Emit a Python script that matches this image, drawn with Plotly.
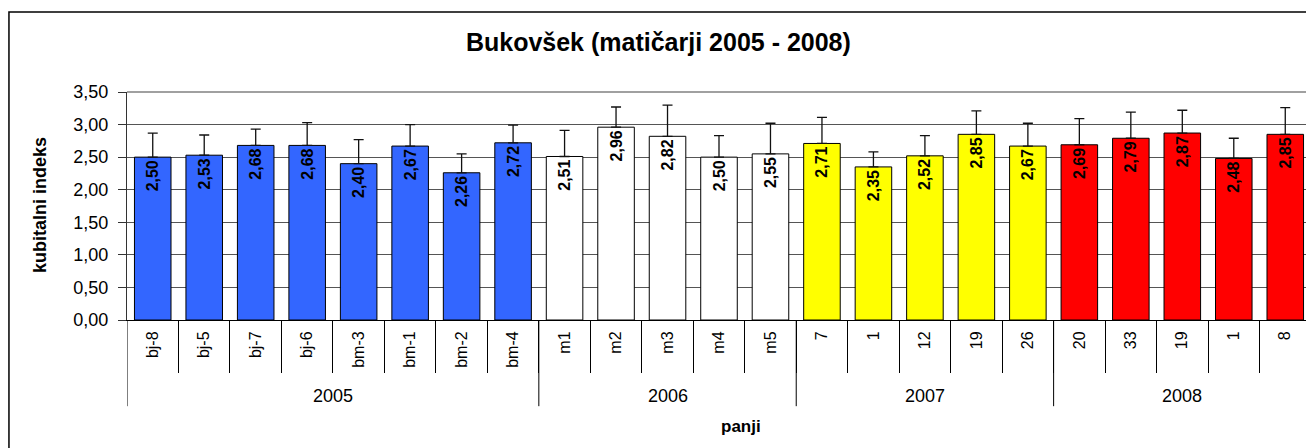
import plotly.graph_objects as go

# ---- data ----
years = ["2005", "2006", "2007", "2008"]
labels_2005 = ["bj-8", "bj-5", "bj-7", "bj-6", "bm-3", "bm-1", "bm-2", "bm-4"]
labels_2006 = ["m1", "m2", "m3", "m4", "m5"]
labels_2007 = ["7", "1", "12", "19", "26"]
labels_2008 = ["20", "33", "19", "1", "8"]

values_2005 = [2.50, 2.53, 2.68, 2.68, 2.40, 2.67, 2.26, 2.72]
values_2006 = [2.51, 2.96, 2.82, 2.50, 2.55]
values_2007 = [2.71, 2.35, 2.52, 2.85, 2.67]
values_2008 = [2.69, 2.79, 2.87, 2.48, 2.85]

err_2005 = [0.37, 0.31, 0.25, 0.35, 0.37, 0.33, 0.29, 0.27]
err_2006 = [0.40, 0.31, 0.48, 0.33, 0.47]
err_2007 = [0.40, 0.23, 0.31, 0.36, 0.35]
err_2008 = [0.40, 0.40, 0.35, 0.31, 0.41]

colors = ["#3366FF", "#FFFFFF", "#FFFF00", "#FF0000"]

y_ticks = [0, 0.5, 1.0, 1.5, 2.0, 2.5, 3.0, 3.5]

groups = [
    (years[0], labels_2005, values_2005, err_2005, colors[0]),
    (years[1], labels_2006, values_2006, err_2006, colors[1]),
    (years[2], labels_2007, values_2007, err_2007, colors[2]),
    (years[3], labels_2008, values_2008, err_2008, colors[3]),
]

FONT = "Liberation Sans, Arial, sans-serif"

fig = go.Figure()
all_labels = []
boundaries = [-0.5]
centers = []
pos = 0
for yr, labs, vals, errs, col in groups:
    xs = list(range(pos, pos + len(labs)))
    fig.add_trace(go.Bar(
        x=xs, y=vals,
        marker=dict(color=col, line=dict(color="#000000", width=1)),
        error_y=dict(type="data", symmetric=False, array=errs,
                     arrayminus=[0] * len(errs), color="#111111",
                     thickness=1.3, width=5),
        texttemplate="%{y:.2f}",
        textposition="inside", insidetextanchor="end", textangle=-90,
        textfont=dict(family=FONT, size=16, color="#000000", weight="bold"),
        showlegend=False, hoverinfo="skip",
    ))
    all_labels += labs
    centers.append((xs[0] + xs[-1]) / 2)
    pos += len(labs)
    boundaries.append(pos - 0.5)

n = len(all_labels)
minor_vals = [i - 0.5 for i in range(1, n)]

fig.update_layout(
    width=1306, height=440,
    margin=dict(l=119, r=3, t=84, b=128),
    paper_bgcolor="#FFFFFF", plot_bgcolor="#FFFFFF",
    separators=",.",
    bargap=0.29,
    font=dict(family=FONT, color="#000000"),
    title=dict(text="<b>Bukovšek (matičarji 2005 - 2008)</b>",
               x=0.498, xanchor="center", y=0.9227, yanchor="middle",
               font=dict(family=FONT, size=25, color="#000000")),
    xaxis=dict(
        range=[-0.5, n - 0.5],
        tickmode="array", tickvals=list(range(n)), ticktext=all_labels,
        tickangle=-90, ticks="", ticklen=0,
        tickfont=dict(family=FONT, size=16, color="#000000"),
        showgrid=False, zeroline=False,
        showline=True, linecolor="#000000", linewidth=1, mirror=False,
        minor=dict(tickmode="array", tickvals=minor_vals, ticks="outside",
                   ticklen=52, tickcolor="#000000", tickwidth=1, showgrid=False),
        ticklabelstandoff=4,
    ),
    yaxis=dict(
        range=[0, 3.5],
        tickmode="array", tickvals=y_ticks, tickformat=".2f",
        ticks="outside", ticklen=8, tickcolor="#333333",
        tickfont=dict(family=FONT, size=18, color="#000000"),
        showgrid=True, gridcolor="#555555", gridwidth=1,
        zeroline=False,
        showline=True, linecolor="#333333", linewidth=1,
        ticklabelstandoff=6,
    ),
)

shapes = []
# plot-area border (top/right, grey)
shapes.append(dict(type="line", xref="paper", yref="paper", x0=0, x1=1, y0=1, y1=1,
                   line=dict(color="#808080", width=1.5)))
shapes.append(dict(type="line", xref="paper", yref="paper", x0=1, x1=1, y0=0, y1=1,
                   line=dict(color="#808080", width=1.5)))
# year dividers below the axis
for b in boundaries:
    shapes.append(dict(type="line", xref="x", yref="paper", x0=b, x1=b, y0=0, y1=-0.378,
                       line=dict(color="#000000", width=1)))
# outer chart border
shapes.append(dict(type="rect", xref="paper", yref="paper",
                   x0=-0.0997, x1=1.01, y0=-0.62, y1=1.351,
                   line=dict(color="#000000", width=1.5), fillcolor="rgba(0,0,0,0)"))
fig.update_layout(shapes=shapes)

annotations = []
for yr, c in zip(years, centers):
    annotations.append(dict(text=yr, x=c, xref="x", y=-0.333, yref="paper",
                            showarrow=False, xanchor="center", yanchor="middle",
                            font=dict(family=FONT, size=18, color="#000000")))
annotations.append(dict(text="<b>panji</b>", x=0.5186, xref="paper", y=-0.469, yref="paper",
                        showarrow=False, xanchor="center", yanchor="middle",
                        font=dict(family=FONT, size=17, color="#000000")))
annotations.append(dict(text="<b>kubitalni indeks</b>", x=-0.0735, xref="paper", y=0.504,
                        yref="paper", textangle=-90, showarrow=False,
                        xanchor="center", yanchor="middle",
                        font=dict(family=FONT, size=18, color="#000000")))
fig.update_layout(annotations=annotations)

fig.write_html("out.html")
